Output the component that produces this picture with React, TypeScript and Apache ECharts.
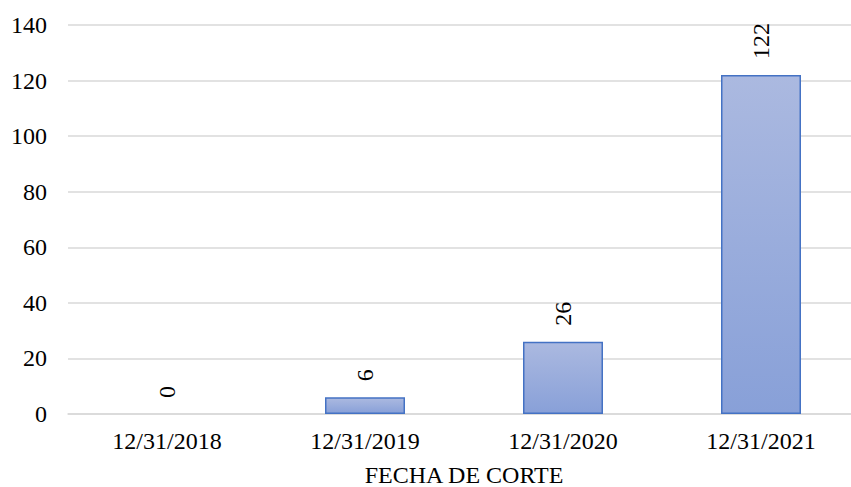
import React, { useEffect, useRef } from "react";
import * as echarts from "echarts";

const categories = ["12/31/2018", "12/31/2019", "12/31/2020", "12/31/2021"];
const values = [0, 6, 26, 122];
const axisName = "FECHA DE CORTE";

export default function App() {
  const ref = useRef<HTMLDivElement>(null);
  useEffect(() => {
    const chart = echarts.init(ref.current!, null, { renderer: "svg" });
    const font = "'Liberation Serif', 'Times New Roman', serif";
    chart.setOption({
      animation: false,
      grid: { left: 68, right: -9, top: 25, bottom: 73, containLabel: false, outerBoundsMode: "none" },
      xAxis: {
        type: "category",
        data: categories,
        name: axisName,
        nameLocation: "middle",
        nameGap: 49,
        nameTextStyle: { fontFamily: font, fontSize: 24, color: "#000", lineHeight: 24 },
        axisLine: { lineStyle: { color: "#d9d9d9", width: 1.5 } },
        axisTick: { show: false },
        axisLabel: { fontFamily: font, fontSize: 24, color: "#000", margin: 15 },
      },
      yAxis: {
        type: "value",
        min: 0,
        max: 140,
        interval: 20,
        axisLine: { show: false },
        axisTick: { show: false },
        splitLine: { lineStyle: { color: "#d9d9d9", width: 1.5 } },
        axisLabel: { fontFamily: font, fontSize: 24, color: "#000", margin: 21 },
      },
      series: [
        {
          type: "bar",
          data: values.map((v) =>
            v === 0 ? { value: v, itemStyle: { borderWidth: 0, color: "rgba(0,0,0,0)" } } : v
          ),
          barWidth: 80,
          itemStyle: {
            color: new echarts.graphic.LinearGradient(0, 0, 0, 1, [
              { offset: 0, color: "#abb9e0" },
              { offset: 1, color: "#88a0d8" },
            ]),
            borderColor: "#4472c4",
            borderWidth: 1.5,
          },
          label: {
            show: true,
            position: "top",
            rotate: 90,
            align: "left",
            verticalAlign: "middle",
            distance: 16,
            fontFamily: font,
            fontSize: 24,
            color: "#000",
          },
        },
      ],
    });
    return () => chart.dispose();
  }, []);
  return (
    <div
      ref={ref}
      style={{ position: "fixed", left: 0, top: 0, width: 851, height: 487, background: "#fff" }}
    />
  );
}
